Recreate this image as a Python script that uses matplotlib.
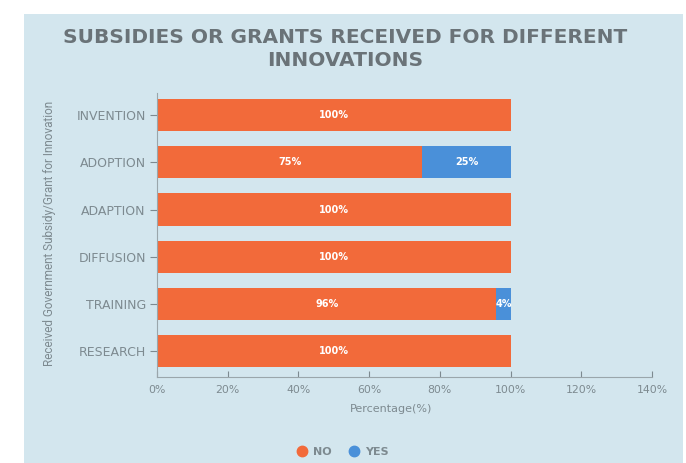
import matplotlib
matplotlib.use("Agg")
import matplotlib.pyplot as plt
from matplotlib.patches import Rectangle
from matplotlib.lines import Line2D

categories = ["INVENTION", "ADOPTION", "ADAPTION", "DIFFUSION", "TRAINING", "RESEARCH"]
no_values = [100, 75, 100, 100, 96, 100]
yes_values = [0, 25, 0, 0, 4, 0]
x_ticks = [0, 20, 40, 60, 80, 100, 120, 140]

ORANGE = "#F26A3A"
BLUE = "#4A90D9"
PANEL = "#D3E6EE"
GRAY = "#7d8a90"
TITLE_GRAY = "#6a7378"
LABEL_FONT = "DejaVu Sans"

W, H = 686, 463
fig = plt.figure(figsize=(W / 100, H / 100), dpi=100)
fig.patch.set_facecolor("white")

# light blue panel behind the chart
fig.patches.append(Rectangle((24 / W, 0), (683 - 24) / W, (463 - 14) / H,
                             transform=fig.transFigure, facecolor=PANEL,
                             edgecolor="none", zorder=-5))

ax = fig.add_axes([157 / W, 1 - 377 / H, (652 - 157) / W, (377 - 93) / H])
ax.set_facecolor("none")
ax.set_zorder(2)

y = list(range(len(categories)))
ax.barh(y, no_values, height=0.68, color=ORANGE, zorder=2)
ax.barh(y, yes_values, left=no_values, height=0.68, color=BLUE, zorder=2)

for i, (n, s) in enumerate(zip(no_values, yes_values)):
    if n > 0:
        ax.text(n / 2, i, f"{n}%", ha="center", va="center", color="white",
                fontsize=7, fontweight="bold", family=LABEL_FONT, zorder=3)
    if s > 0:
        ax.text(n + s / 2, i, f"{s}%", ha="center", va="center", color="white",
                fontsize=7, fontweight="bold", family=LABEL_FONT, zorder=3)

ax.set_xlim(0, 140)
ax.set_ylim(5.55, -0.47)
ax.set_yticks(y)
ax.set_yticklabels(categories, fontsize=9, color=GRAY, family=LABEL_FONT)
ax.set_xticks(x_ticks)
ax.set_xticklabels([f"{t}%" for t in x_ticks], fontsize=7.8, color=GRAY,
                   family=LABEL_FONT)
ax.tick_params(axis="y", direction="out", length=5, color=GRAY, width=0.8, pad=3)
ax.tick_params(axis="x", direction="in", length=4, color=GRAY, width=0.8, pad=6)

for side in ["top", "right"]:
    ax.spines[side].set_visible(False)
for side in ["left", "bottom"]:
    ax.spines[side].set_color("#9aa6ab")
    ax.spines[side].set_linewidth(0.8)

fig.text(391 / W, 1 - 409 / H, "Percentage(%)", ha="center", va="center",
         fontsize=8, color=GRAY, family=LABEL_FONT)
fig.text(50 / W, 1 - 233 / H, "Received Government Subsidy/Grant for Innovation",
         rotation=90, ha="center", va="center", fontsize=8.5, color=GRAY,
         family="Roboto")

fig.text(345 / W, 1 - 49 / H, "SUBSIDIES OR GRANTS RECEIVED FOR DIFFERENT\nINNOVATIONS",
         ha="center", va="center", fontsize=14.5, fontweight="bold",
         color=TITLE_GRAY, family="DejaVu Sans", linespacing=1.3)

handles = [Line2D([], [], marker="o", linestyle="none", markersize=7.5,
                  markerfacecolor=ORANGE, markeredgecolor=ORANGE, label="NO"),
           Line2D([], [], marker="o", linestyle="none", markersize=7.5,
                  markerfacecolor=BLUE, markeredgecolor=BLUE, label="YES")]
leg = fig.legend(handles=handles, loc="center", bbox_to_anchor=(340 / W, 1 - 452 / H),
                 ncol=2, frameon=False, handletextpad=0.0, columnspacing=1.0,
                 prop={"family": LABEL_FONT, "weight": "bold", "size": 8})
for t in leg.get_texts():
    t.set_color(GRAY)

fig.savefig("out.png", dpi=100, facecolor=fig.get_facecolor())
